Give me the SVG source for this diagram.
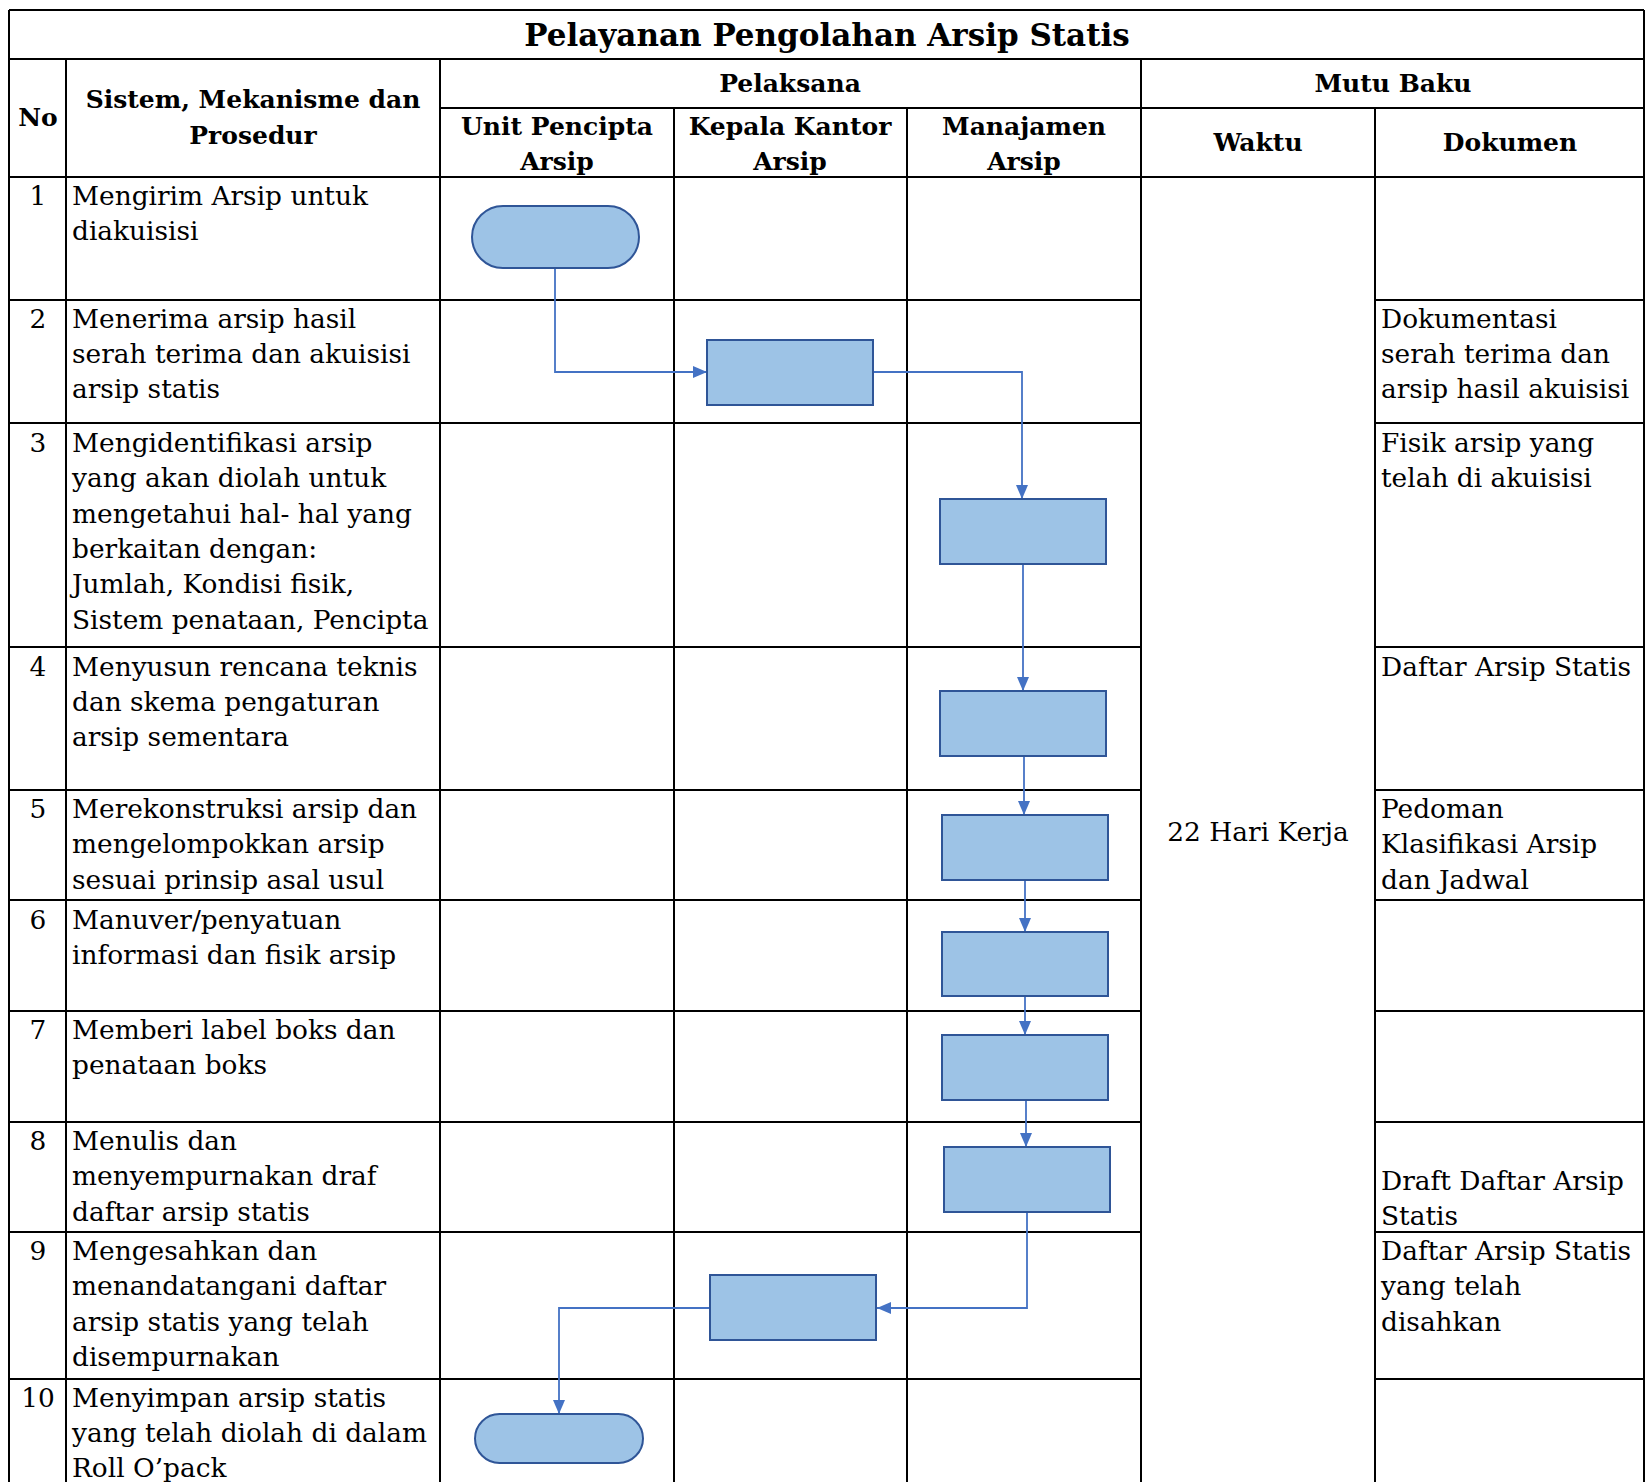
<svg xmlns="http://www.w3.org/2000/svg" width="1646" height="1482" viewBox="0 0 1646 1482">
<style>
.g{stroke:#000;stroke-width:2;fill:none}
.t{font-family:"DejaVu Serif","Liberation Serif",serif;font-size:26.4px;fill:#000}
.h{font-family:"DejaVu Serif","Liberation Serif",serif;font-size:25px;font-weight:bold;fill:#000;text-anchor:middle}
.ttl{font-family:"DejaVu Serif","Liberation Serif",serif;font-size:31px;font-weight:bold;fill:#000;text-anchor:middle}
.n{text-anchor:middle}
.box{fill:#9DC3E6;stroke:#2F5597;stroke-width:2}
.c{fill:none;stroke:#4472C4;stroke-width:1.8}
</style>
<defs>
<marker id="ah" markerWidth="14" markerHeight="12" refX="14" refY="6" orient="auto" markerUnits="userSpaceOnUse">
<path d="M0,0 L14,6 L0,12 Z" fill="#4472C4"/>
</marker>
</defs>
<rect width="1646" height="1482" fill="#fff"/>

<g id="grid">
<path class="g" d="M9,10 H1644 M9,59 H1644 M440,108 H1644 M9,177 H1644
M9,10 V1482 M1644,10 V1482 M66,59 V1482 M440,59 V1482 M674,108 V1482 M907,108 V1482 M1141,59 V1482 M1375,108 V1482
M9,300 H1141 M1375,300 H1644
M9,423 H1141 M1375,423 H1644
M9,647 H1141 M1375,647 H1644
M9,790 H1141 M1375,790 H1644
M9,900 H1141 M1375,900 H1644
M9,1011 H1141 M1375,1011 H1644
M9,1122 H1141 M1375,1122 H1644
M9,1232 H1141 M1375,1232 H1644
M9,1379 H1141 M1375,1379 H1644"/>
</g>

<g id="header">
<text class="ttl" x="827" y="46">Pelayanan Pengolahan Arsip Statis</text>
<text class="h" x="38" y="126">No</text>
<text class="h" x="253" y="108">Sistem, Mekanisme dan</text>
<text class="h" x="253" y="144">Prosedur</text>
<text class="h" x="790" y="92">Pelaksana</text>
<text class="h" x="1393" y="92">Mutu Baku</text>
<text class="h" x="557" y="135">Unit Pencipta</text>
<text class="h" x="557" y="170">Arsip</text>
<text class="h" x="790" y="135">Kepala Kantor</text>
<text class="h" x="790" y="170">Arsip</text>
<text class="h" x="1024" y="135">Manajamen</text>
<text class="h" x="1024" y="170">Arsip</text>
<text class="h" x="1258" y="151">Waktu</text>
<text class="h" x="1510" y="151">Dokumen</text>
</g>

<g id="numbers" class="t n">
<text x="38" y="205">1</text>
<text x="38" y="328">2</text>
<text x="38" y="452">3</text>
<text x="38" y="676">4</text>
<text x="38" y="818">5</text>
<text x="38" y="929">6</text>
<text x="38" y="1039">7</text>
<text x="38" y="1150">8</text>
<text x="38" y="1260">9</text>
<text x="38" y="1407">10</text>
</g>

<g id="steps" class="t">
<text x="72" y="205">Mengirim Arsip untuk</text>
<text x="72" y="240">diakuisisi</text>
<text x="72" y="328">Menerima arsip hasil</text>
<text x="72" y="363">serah terima dan akuisisi</text>
<text x="72" y="398">arsip statis</text>
<text x="72" y="452">Mengidentifikasi arsip</text>
<text x="72" y="487">yang akan diolah untuk</text>
<text x="72" y="523">mengetahui hal- hal yang</text>
<text x="72" y="558">berkaitan dengan:</text>
<text x="72" y="593">Jumlah, Kondisi fisik,</text>
<text x="72" y="629">Sistem penataan, Pencipta</text>
<text x="72" y="676">Menyusun rencana teknis</text>
<text x="72" y="711">dan skema pengaturan</text>
<text x="72" y="746">arsip sementara</text>
<text x="72" y="818">Merekonstruksi arsip dan</text>
<text x="72" y="853">mengelompokkan arsip</text>
<text x="72" y="889">sesuai prinsip asal usul</text>
<text x="72" y="929">Manuver/penyatuan</text>
<text x="72" y="964">informasi dan fisik arsip</text>
<text x="72" y="1039">Memberi label boks dan</text>
<text x="72" y="1074">penataan boks</text>
<text x="72" y="1150">Menulis dan</text>
<text x="72" y="1185">menyempurnakan draf</text>
<text x="72" y="1221">daftar arsip statis</text>
<text x="72" y="1260">Mengesahkan dan</text>
<text x="72" y="1295">menandatangani daftar</text>
<text x="72" y="1331">arsip statis yang telah</text>
<text x="72" y="1366">disempurnakan</text>
<text x="72" y="1407">Menyimpan arsip statis</text>
<text x="72" y="1442">yang telah diolah di dalam</text>
<text x="72" y="1477">Roll O’pack</text>
</g>

<g id="waktu" class="t">
<text x="1258" y="841" text-anchor="middle">22 Hari Kerja</text>
</g>

<g id="dokumen" class="t">
<text x="1381" y="328">Dokumentasi</text>
<text x="1381" y="363">serah terima dan</text>
<text x="1381" y="398">arsip hasil akuisisi</text>
<text x="1381" y="452">Fisik arsip yang</text>
<text x="1381" y="487">telah di akuisisi</text>
<text x="1381" y="676">Daftar Arsip Statis</text>
<text x="1381" y="818">Pedoman</text>
<text x="1381" y="853">Klasifikasi Arsip</text>
<text x="1381" y="889">dan Jadwal</text>
<text x="1381" y="1190">Draft Daftar Arsip</text>
<text x="1381" y="1225">Statis</text>
<text x="1381" y="1260">Daftar Arsip Statis</text>
<text x="1381" y="1295">yang telah</text>
<text x="1381" y="1331">disahkan</text>
</g>

<g id="connectors">
<path class="c" d="M555,268 V372 H707" marker-end="url(#ah)"/>
<path class="c" d="M873,372 H1022 V499" marker-end="url(#ah)"/>
<path class="c" d="M1023,564 V691" marker-end="url(#ah)"/>
<path class="c" d="M1024,756 V815" marker-end="url(#ah)"/>
<path class="c" d="M1025,880 V932" marker-end="url(#ah)"/>
<path class="c" d="M1025,996 V1035" marker-end="url(#ah)"/>
<path class="c" d="M1026,1100 V1147" marker-end="url(#ah)"/>
<path class="c" d="M1027,1212 V1308 H877" marker-end="url(#ah)"/>
<path class="c" d="M710,1308 H559 V1414" marker-end="url(#ah)"/>
</g>

<g id="node1"><rect class="box" x="472" y="206" width="167" height="62" rx="31" ry="31"/></g>
<g id="node2"><rect class="box" x="707" y="340" width="166" height="65"/></g>
<g id="node3"><rect class="box" x="940" y="499" width="166" height="65"/></g>
<g id="node4"><rect class="box" x="940" y="691" width="166" height="65"/></g>
<g id="node5"><rect class="box" x="942" y="815" width="166" height="65"/></g>
<g id="node6"><rect class="box" x="942" y="932" width="166" height="64"/></g>
<g id="node7"><rect class="box" x="942" y="1035" width="166" height="65"/></g>
<g id="node8"><rect class="box" x="944" y="1147" width="166" height="65"/></g>
<g id="node9"><rect class="box" x="710" y="1275" width="166" height="65"/></g>
<g id="node10"><rect class="box" x="475" y="1414" width="168" height="49" rx="24.5" ry="24.5"/></g>
</svg>
